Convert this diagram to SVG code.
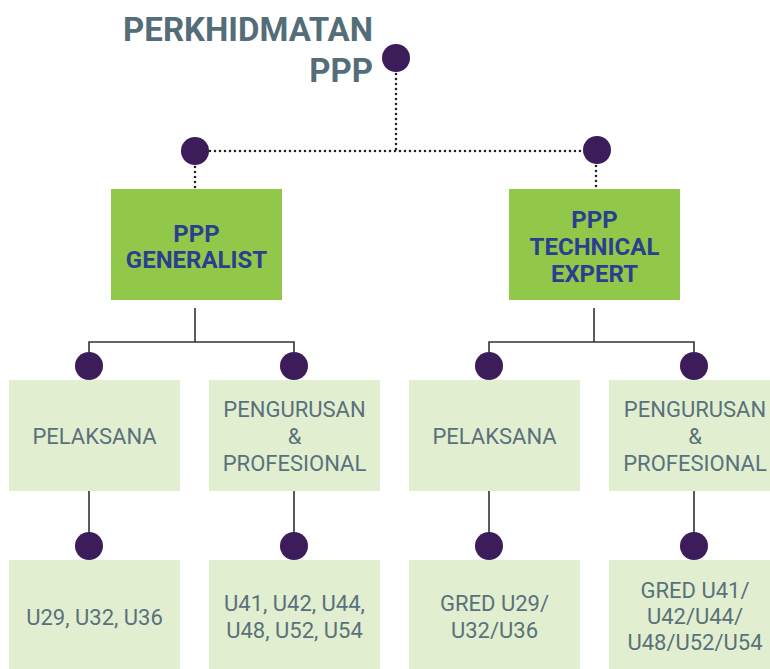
<svg xmlns="http://www.w3.org/2000/svg" width="770" height="669" viewBox="0 0 770 669">
  <style>
    .title { font-family: Roboto, "Liberation Sans", sans-serif; font-weight: 700; font-size: 33px; fill: #546e79; }
    .main { fill: #92c84a; }
    .mainText { font-family: Roboto, "Liberation Sans", sans-serif; font-weight: 700; font-size: 24px; fill: #2a3f8f; text-anchor: middle; }
    .sub { fill: #e1efd0; }
    .subText { font-family: Roboto, "Liberation Sans", sans-serif; font-weight: 400; font-size: 22px; fill: #5a717c; text-anchor: middle; }
    .dot { fill: #3d1c5a; }
    .dotted { fill: none; stroke: #222; stroke-width: 2.6; stroke-dasharray: 0 5; stroke-linecap: round; }
    .solid { fill: none; stroke: #333; stroke-width: 1.6; }
  </style>

  <!-- connectors -->
  <g id="connectors">
    <path class="dotted" d="M396 74 V151 M210 151 H582 M195 167 V188 M596 166 V188"/>
    <path class="solid" d="M195 308 V342 M89 352 V342 H294 V352"/>
    <path class="solid" d="M594 308 V342 M489 352 V342 H694 V352"/>
    <path class="solid" d="M89 491 V533 M294 491 V533 M489 491 V533 M694 491 V533"/>
  </g>

  <!-- root -->
  <g id="root">
    <text class="title" x="373" y="41" text-anchor="end">PERKHIDMATAN</text>
    <text class="title" x="373" y="82" text-anchor="end">PPP</text>
    <circle class="dot" cx="396" cy="58" r="14"/>
  </g>

  <!-- branch: generalist -->
  <g id="generalist">
    <circle class="dot" cx="195" cy="151" r="14"/>
    <rect class="main" x="111" y="189" width="171" height="111"/>
    <text class="mainText" x="196.5" y="242">PPP</text>
    <text class="mainText" x="196.5" y="268">GENERALIST</text>
  </g>

  <!-- branch: technical expert -->
  <g id="technical">
    <circle class="dot" cx="597" cy="150" r="14"/>
    <rect class="main" x="509" y="189" width="171" height="111"/>
    <text class="mainText" x="594.5" y="228">PPP</text>
    <text class="mainText" x="594.5" y="255">TECHNICAL</text>
    <text class="mainText" x="594.5" y="282">EXPERT</text>
  </g>

  <!-- generalist: pelaksana -->
  <g id="gen-pelaksana">
    <circle class="dot" cx="89" cy="366" r="14"/>
    <rect class="sub" x="9" y="380" width="171" height="111"/>
    <text class="subText" x="94.5" y="444">PELAKSANA</text>
  </g>
  <g id="gen-pelaksana-grades">
    <circle class="dot" cx="89" cy="546" r="14"/>
    <rect class="sub" x="9" y="560" width="171" height="109"/>
    <text class="subText" x="94.5" y="625">U29, U32, U36</text>
  </g>

  <!-- generalist: pengurusan & profesional -->
  <g id="gen-pengurusan">
    <circle class="dot" cx="294" cy="366" r="14"/>
    <rect class="sub" x="209" y="380" width="171" height="111"/>
    <text class="subText" x="294.5" y="417">PENGURUSAN</text>
    <text class="subText" x="294.5" y="444">&amp;</text>
    <text class="subText" x="294.5" y="471">PROFESIONAL</text>
  </g>
  <g id="gen-pengurusan-grades">
    <circle class="dot" cx="294" cy="546" r="14"/>
    <rect class="sub" x="209" y="560" width="171" height="109"/>
    <text class="subText" x="294.5" y="611">U41, U42, U44,</text>
    <text class="subText" x="294.5" y="638">U48, U52, U54</text>
  </g>

  <!-- technical expert: pelaksana -->
  <g id="tech-pelaksana">
    <circle class="dot" cx="489" cy="366" r="14"/>
    <rect class="sub" x="409" y="380" width="171" height="111"/>
    <text class="subText" x="494.5" y="444">PELAKSANA</text>
  </g>
  <g id="tech-pelaksana-grades">
    <circle class="dot" cx="489" cy="546" r="14"/>
    <rect class="sub" x="409" y="560" width="171" height="109"/>
    <text class="subText" x="494.5" y="611">GRED U29/</text>
    <text class="subText" x="494.5" y="638">U32/U36</text>
  </g>

  <!-- technical expert: pengurusan & profesional -->
  <g id="tech-pengurusan">
    <circle class="dot" cx="694" cy="366" r="14"/>
    <rect class="sub" x="609" y="380" width="171" height="111"/>
    <text class="subText" x="695" y="417">PENGURUSAN</text>
    <text class="subText" x="695" y="444">&amp;</text>
    <text class="subText" x="695" y="471">PROFESIONAL</text>
  </g>
  <g id="tech-pengurusan-grades">
    <circle class="dot" cx="694" cy="546" r="14"/>
    <rect class="sub" x="609" y="560" width="171" height="109"/>
    <text class="subText" x="695" y="598">GRED U41/</text>
    <text class="subText" x="695" y="624">U42/U44/</text>
    <text class="subText" x="695" y="650">U48/U52/U54</text>
  </g>
</svg>
